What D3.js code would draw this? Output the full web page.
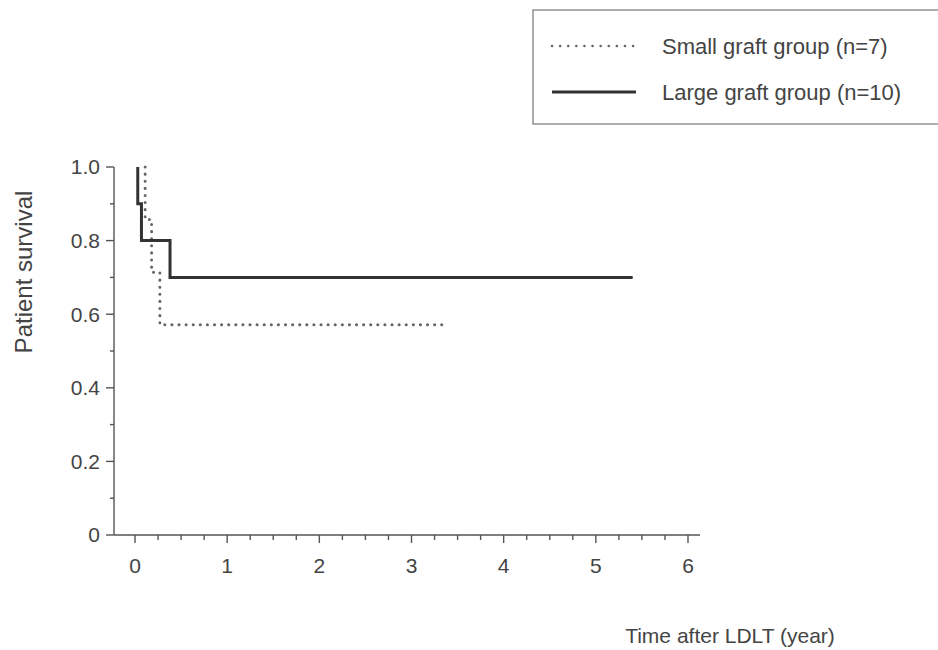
<!DOCTYPE html>
<html>
<head>
<meta charset="utf-8">
<script src="https://d3js.org/d3.v7.min.js"></script>
<style>
  body { margin: 0; background: #fff; }
  svg { font-family: "Liberation Sans", Arial, sans-serif; }
  .axis path, .axis line { stroke: #555; stroke-width: 1.4; fill: none; }
  .axis text { fill: #444; font-size: 21px; }
</style>
</head>
<body>
<svg id="chart" width="938" height="650"></svg>
<script>
// Kaplan-Meier steps: [time in years, survival]
const smallGraft = [[0.11, 1.0], [0.11, 0.857], [0.18, 0.857], [0.18, 0.714], [0.27, 0.714], [0.27, 0.571], [3.38, 0.571]];
const largeGraft = [[0.03, 1.0], [0.03, 0.9], [0.07, 0.9], [0.07, 0.8], [0.38, 0.8], [0.38, 0.7], [5.4, 0.7]];
const seriesNames = ["Small graft group (n=7)", "Large graft group (n=10)"];
const yTicks = [0, 0.2, 0.4, 0.6, 0.8, 1.0];
const xTicks = [0, 1, 2, 3, 4, 5, 6];

const svg = d3.select("#chart");

const x = d3.scaleLinear().domain([0, 6]).range([135, 688]);
const y = d3.scaleLinear().domain([0, 1]).range([535, 167]);

// x axis (line spans from the y axis to just past 6)
const xAxisG = svg.append("g").attr("class", "axis").attr("transform", "translate(0,535)");
xAxisG.append("line").attr("x1", 114).attr("x2", x(6.13));
xAxisG.selectAll(".minor").data(d3.range(0, 6.01, 0.25))
  .enter().append("line")
  .attr("x1", d => x(d)).attr("x2", d => x(d))
  .attr("y1", 0).attr("y2", d => Number.isInteger(d) ? 8 : 5);
xAxisG.selectAll("text").data(xTicks).enter().append("text")
  .attr("x", d => x(d)).attr("y", 38)
  .attr("text-anchor", "middle")
  .text(d => d);

// y axis
const yAxisG = svg.append("g").attr("class", "axis").attr("transform", "translate(114,0)");
yAxisG.append("line").attr("y1", y(0)).attr("y2", y(1));
yAxisG.selectAll(".minor").data(d3.range(0, 1.001, 0.1))
  .enter().append("line")
  .attr("y1", d => y(d)).attr("y2", d => y(d))
  .attr("x1", 0).attr("x2", (d, i) => i % 2 === 0 ? -8 : -4);
yAxisG.selectAll("text").data(yTicks).enter().append("text")
  .attr("x", -14).attr("y", d => y(d)).attr("dy", "0.35em")
  .attr("text-anchor", "end")
  .text(d => d === 0 ? "0" : d3.format(".1f")(d));

// axis titles
svg.append("text")
  .attr("transform", "translate(32,272) rotate(-90)")
  .attr("text-anchor", "middle")
  .attr("fill", "#444").attr("font-size", 24)
  .text("Patient survival");
svg.append("text")
  .attr("x", 730).attr("y", 643)
  .attr("text-anchor", "middle")
  .attr("fill", "#444").attr("font-size", 21)
  .text("Time after LDLT (year)");

// curves
const line = d3.line().x(d => x(d[0])).y(d => y(d[1]));
svg.append("path").datum(smallGraft).attr("d", line)
  .attr("fill", "none").attr("stroke", "#666").attr("stroke-width", 3)
  .attr("stroke-linecap", "round").attr("stroke-dasharray", "0.1,7");
svg.append("path").datum(largeGraft).attr("d", line)
  .attr("fill", "none").attr("stroke", "#333").attr("stroke-width", 3);

// legend
const legend = svg.append("g");
legend.append("rect").attr("x", 533).attr("y", 10).attr("width", 420).attr("height", 114)
  .attr("fill", "none").attr("stroke", "#777").attr("stroke-width", 1.2);
legend.append("line").attr("x1", 552).attr("x2", 636).attr("y1", 46).attr("y2", 46)
  .attr("stroke", "#666").attr("stroke-width", 2.5).attr("stroke-linecap", "round").attr("stroke-dasharray", "0.1,8");
legend.append("line").attr("x1", 552).attr("x2", 636).attr("y1", 92).attr("y2", 92)
  .attr("stroke", "#333").attr("stroke-width", 3);
legend.selectAll("text").data(seriesNames).enter().append("text")
  .attr("x", 662).attr("y", (d, i) => 46 + i * 46).attr("dy", "0.35em")
  .attr("fill", "#444").attr("font-size", 22)
  .text(d => d);
</script>
</body>
</html>
